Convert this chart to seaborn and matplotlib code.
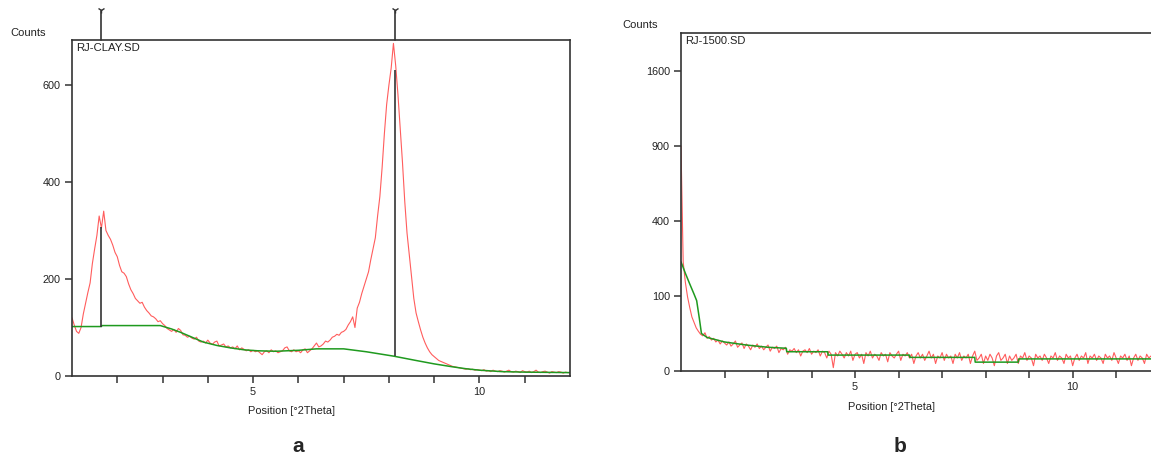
import numpy as np
import pandas as pd
import matplotlib
matplotlib.use("Agg")
import matplotlib.pyplot as plt
import matplotlib.transforms as mtransforms
import seaborn as sns

# ---------------- data ----------------
# panel a: RJ-CLAY.SD, counts sampled every 0.05 deg 2Theta starting at 1.00
clay_start, clay_step = 1.0, 0.05
clay_counts = [
    120, 105, 92, 88, 100, 128, 150, 172, 192, 232, 262, 290, 330, 305, 340, 300, 290, 282, 270, 255,
    246, 228, 215, 212, 205, 190, 178, 170, 160, 155, 150, 152, 142, 135, 130, 124, 122, 118, 112, 114,
    108, 104, 98, 95, 92, 96, 90, 98, 94, 85, 84, 80, 82, 78, 76, 80, 72, 70, 72, 68,
    74, 68, 65, 70, 72, 62, 64, 66, 60, 62, 58, 60, 56, 62, 54, 58, 55, 52, 54, 50,
    53, 50, 52, 48, 44, 50, 52, 48, 54, 50, 52, 48, 50, 52, 58, 60, 52, 50, 54, 50,
    52, 48, 54, 56, 48, 52, 56, 62, 68, 60, 62, 66, 72, 70, 74, 80, 82, 86, 84, 90,
    92, 96, 105, 112, 122, 100, 140, 152, 170, 185, 200, 215, 240, 262, 285, 330, 370, 430, 500, 560,
    600, 635, 686, 640, 580, 510, 440, 360, 295, 250, 205, 160, 130, 112, 95, 80, 68, 58, 50, 44,
    40, 36, 32, 30, 28, 26, 24, 22, 20, 19, 18, 17, 16, 15, 14, 15, 13, 14, 12, 13,
    12, 11, 13, 10, 11, 9, 12, 10, 9, 11, 10, 8, 10, 12, 9, 8, 10, 9, 7, 11,
    9, 8, 10, 7, 9, 12, 8, 7, 9, 10, 8, 6, 9, 8, 7, 9, 8, 6, 8, 7, 7,
]
clay_bg_x = [1.0, 1.65, 1.66, 2.5, 2.95, 3.2, 3.4, 3.6, 3.9, 4.2, 4.5, 4.8, 5.1, 5.5, 6.0, 6.4, 7.0,
             7.5, 8.1, 8.6, 9.0, 9.4, 9.7, 10.0, 10.5, 11.0, 12.0]
clay_bg_y = [102, 102, 104, 104, 104, 97, 90, 82, 70, 63, 58, 54, 52, 51, 53, 56, 56,
             50, 41, 32, 25, 19, 15, 12, 9, 8, 7]
clay_peak_pos = [1.65, 8.14]
clay_peak_top = [308, 631]
clay_peak_base = [102, 41]

# panel b: RJ-1500.SD, counts sampled every 0.05 deg 2Theta starting at 1.00
r1500_start, r1500_step = 1.0, 0.05
r1500_counts = [
    900, 212, 140, 98, 72, 52, 42, 33, 28, 24, 22, 26, 19, 21, 17, 19, 15, 17, 13, 16,
    14, 12, 15, 11, 13, 16, 10, 12, 14, 9, 13, 11, 8, 12, 10, 13, 9, 11, 8, 10,
    12, 7, 10, 9, 11, 6, 9, 8, 10, 5, 8, 7, 9, 6, 8, 4, 7, 8, 6, 9,
    5, 7, 6, 8, 4, 7, 6, 3, 7, 5, 0.2, 6, 4, 7, 5, 3, 6, 4, 7, 2,
    5, 6, 3, 5, 1, 6, 4, 7, 3, 5, 4, 2, 6, 4, 5, 1.5, 6, 4, 3, 5,
    7, 2, 5, 4, 6, 3, 5, 1, 4, 6, 3, 5, 2, 4, 7, 3, 5, 1, 4, 3,
    6, 2, 5, 3, 4, 1, 5, 3, 6, 2, 4, 3, 5, 1, 4, 7, 2, 3, 5, 1,
    4, 2, 5, 3, 0.5, 4, 6, 2, 3, 5, 1, 4, 2, 3, 5, 1, 4, 3, 6, 2,
    4, 3, 0.5, 5, 3, 4, 2, 5, 3, 1, 4, 3, 6, 2, 4, 3, 1, 5, 3, 4,
    0.5, 3, 5, 2, 4, 3, 6, 1, 4, 3, 5, 2, 4, 3, 1, 5, 3, 4, 2, 6,
    3, 1, 4, 3, 5, 2, 4, 0.5, 3, 5, 2, 4, 3, 1, 5, 3, 4,
]
r1500_bg_x = [1.0, 1.1, 1.2, 1.3, 1.36, 1.42, 1.47, 1.6, 2.0, 2.5, 3.0, 3.42, 3.43, 4.37, 4.38,
              6.25, 6.26, 7.75, 7.76, 8.75, 8.76, 11.8]
r1500_bg_y = [212, 170, 135, 105, 88, 50, 25, 20, 15, 12, 10, 9.2, 6.6, 6.6, 4.5,
              4.5, 3.3, 3.3, 1.4, 1.4, 2.6, 2.6]

x_ticks = [2, 3, 4, 5, 6, 7, 8, 9, 10, 11]
x_ticklabels = ["", "", "", "5", "", "", "", "", "10", ""]

clay = pd.DataFrame({"theta": clay_start + clay_step * np.arange(len(clay_counts)),
                     "counts": clay_counts})
r1500 = pd.DataFrame({"theta": r1500_start + r1500_step * np.arange(len(r1500_counts)),
                      "counts": r1500_counts})

# ---------------- style ----------------
sns.set_style("ticks")
plt.rcParams["font.family"] = ["Liberation Sans", "DejaVu Sans"]

RED = "#ff4040"
GREEN = "#1f9a1f"
FRAME = "#333333"
TXT = "#222222"

fig = plt.figure(figsize=(11.51, 4.57), dpi=100)
ax1 = fig.add_axes([72 / 1151, 1 - 376 / 457, 498 / 1151, 336 / 457])
ax2 = fig.add_axes([681 / 1151, 1 - 371 / 457, 470 / 1151, 338 / 457])


def style_axes(ax, right_spine=True):
    for s in ["left", "bottom", "top", "right"]:
        ax.spines[s].set_color(FRAME)
        ax.spines[s].set_linewidth(1.2)
    ax.spines["right"].set_visible(right_spine)
    ax.set_xticks(x_ticks)
    ax.set_xticklabels(x_ticklabels)
    ax.xaxis.set_minor_locator(matplotlib.ticker.NullLocator())
    ax.tick_params(axis="both", which="major", direction="out", length=5, width=1.1, color=FRAME,
                   labelsize=7.8, labelcolor=TXT, pad=3)
    ax.set_xlabel("")
    ax.set_ylabel("")
    ax.grid(False)


# ---- panel a ----
sns.lineplot(data=clay, x="theta", y="counts", ax=ax1, color=RED, lw=0.8, alpha=0.85,
             estimator=None, sort=False)
sns.lineplot(x=clay_bg_x, y=clay_bg_y, ax=ax1, color=GREEN, lw=1.1, estimator=None, sort=False)
ax1.vlines(clay_peak_pos, clay_peak_base, clay_peak_top, color=FRAME, lw=1.2)
ax1.set_xlim(1.0, 12.0)
ax1.set_ylim(0, 693)
ax1.set_yticks([0, 200, 400, 600])
style_axes(ax1, right_spine=True)

trans1 = mtransforms.blended_transform_factory(ax1.transData, ax1.transAxes)
for p in clay_peak_pos:
    ax1.plot([p, p], [1.0, 1.085], color=FRAME, lw=1.2, transform=trans1, clip_on=False)
    ax1.plot([p], [1.088], marker="1", ms=5, color=FRAME, transform=trans1, clip_on=False)

# ---- panel b ----
ax2.set_yscale("function", functions=(lambda v: np.sqrt(np.clip(v, 0, None)), lambda v: np.square(v)))
sns.lineplot(data=r1500, x="theta", y="counts", ax=ax2, color=RED, lw=0.8, alpha=0.85,
             estimator=None, sort=False)
sns.lineplot(x=r1500_bg_x, y=r1500_bg_y, ax=ax2, color=GREEN, lw=1.1, estimator=None, sort=False)
ax2.set_xlim(1.0, 11.8)
ax2.set_ylim(0, 2031)
ax2.set_yticks([0, 100, 400, 900, 1600])
ax2.set_yticklabels(["0", "100", "400", "900", "1600"])
ax2.yaxis.set_minor_locator(matplotlib.ticker.NullLocator())
style_axes(ax2, right_spine=False)

# ---- texts ----
fig.text(10 / 1151, 1 - 33 / 457, "Counts", fontsize=8, va="center", ha="left", color=TXT)
fig.text(622 / 1151, 1 - 25 / 457, "Counts", fontsize=8, va="center", ha="left", color=TXT)
ax1.text(0.008, 0.99, "RJ-CLAY.SD", transform=ax1.transAxes, fontsize=8.2, va="top", ha="left",
         color=TXT)
ax2.text(0.008, 0.99, "RJ-1500.SD", transform=ax2.transAxes, fontsize=8, va="top", ha="left",
         color=TXT)
fig.text(291 / 1151, 1 - 411 / 457, "Position [°2Theta]", fontsize=7.9, va="center", ha="center",
         color=TXT)
fig.text(891 / 1151, 1 - 407 / 457, "Position [°2Theta]", fontsize=7.9, va="center", ha="center",
         color=TXT)
fig.text(298 / 1151, 1 - 446 / 457, "a", fontsize=15, fontweight="bold", va="center", ha="center")
fig.text(900 / 1151, 1 - 446 / 457, "b", fontsize=15, fontweight="bold", va="center", ha="center")

fig.savefig("out.png", dpi=100)
